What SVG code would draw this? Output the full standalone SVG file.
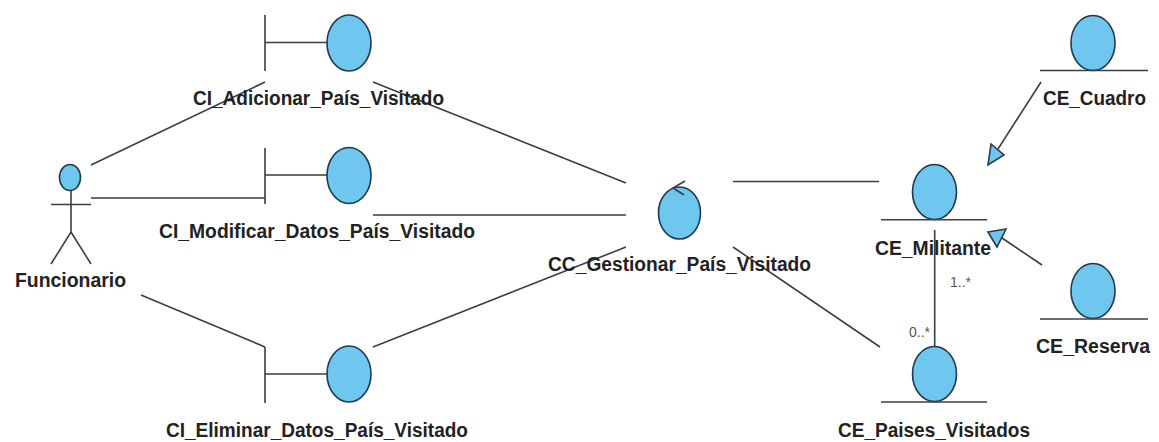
<svg xmlns="http://www.w3.org/2000/svg" width="1159" height="442" viewBox="0 0 1159 442">
<style>
.l{stroke:#3a3f44;stroke-width:1.6;fill:none}
.e{fill:#6fc6ee;stroke:#1f3a4a;stroke-width:1.6}
.a{fill:#6fc6ee;stroke:#2a3a44;stroke-width:1.6}
.t{font-family:"Liberation Sans",Arial,sans-serif;font-weight:bold;font-size:19.500px;fill:#222;text-anchor:middle}
.m{font-family:"Liberation Sans",Arial,sans-serif;font-size:15px;fill:#555}
</style>
<rect width="1159" height="442" fill="#fff"/>
<g id="connectors">
<path class="l" d="M91 165L265 82M91 198H265M141 295L265 347M373 82L626 183M373 215H626M373 347L626 247M733 181.500H879M733 247L880 347M934.700 230V347M1041 82L998 149M1042 265L1002 238"/>
<path class="a" d="M991 144L1004 155L988 165ZM988 232L1006 229L997 247Z"/>
<text class="m" x="950" y="287" textLength="21" lengthAdjust="spacingAndGlyphs">1..*</text>
<text class="m" x="909" y="337" textLength="21" lengthAdjust="spacingAndGlyphs">0..*</text>
</g>
<g id="Funcionario">
<ellipse class="e" cx="70" cy="177.500" rx="10.500" ry="13"/>
<path class="l" d="M71 190V232M51 204.500H91M51 264L71 232L91 264"/>
<text class="t" x="70.500" y="287" textLength="111" lengthAdjust="spacingAndGlyphs">Funcionario</text>
</g>
<g id="CI_Adicionar">
<path class="l" d="M265 15V71M265 42.500H327"/>
<ellipse class="e" cx="349" cy="43" rx="22" ry="28"/>
<text class="t" x="318.500" y="105" textLength="251" lengthAdjust="spacingAndGlyphs">CI_Adicionar_País_Visitado</text>
</g>
<g id="CI_Modificar">
<path class="l" d="M265 148V204M265 175H327"/>
<ellipse class="e" cx="349" cy="175.500" rx="22" ry="28"/>
<text class="t" x="317" y="238" textLength="316" lengthAdjust="spacingAndGlyphs">CI_Modificar_Datos_País_Visitado</text>
</g>
<g id="CI_Eliminar">
<path class="l" d="M265 347V403M265 374H327"/>
<ellipse class="e" cx="349" cy="374" rx="22" ry="28"/>
<text class="t" x="317" y="437" textLength="302" lengthAdjust="spacingAndGlyphs">CI_Eliminar_Datos_País_Visitado</text>
</g>
<g id="CC_Gestionar">
<ellipse class="e" cx="679.500" cy="213" rx="21" ry="26"/>
<path class="l" d="M685 181L673 188L684 195"/>
<text class="t" x="679.500" y="271" textLength="263" lengthAdjust="spacingAndGlyphs">CC_Gestionar_País_Visitado</text>
</g>
<g id="CE_Militante">
<ellipse class="e" cx="934.500" cy="192" rx="22" ry="27.500"/>
<path class="l" d="M881 219.700H987"/>
<text class="t" x="933" y="255" textLength="116" lengthAdjust="spacingAndGlyphs">CE_Militante</text>
</g>
<g id="CE_Cuadro">
<ellipse class="e" cx="1093" cy="43" rx="22" ry="27.500"/>
<path class="l" d="M1040 70.500H1148"/>
<text class="t" x="1094.500" y="105" textLength="103" lengthAdjust="spacingAndGlyphs">CE_Cuadro</text>
</g>
<g id="CE_Reserva">
<ellipse class="e" cx="1093" cy="291" rx="22" ry="27.500"/>
<path class="l" d="M1040 319H1148"/>
<text class="t" x="1093" y="353" textLength="114" lengthAdjust="spacingAndGlyphs">CE_Reserva</text>
</g>
<g id="CE_Paises">
<ellipse class="e" cx="934.500" cy="374" rx="22" ry="27.500"/>
<path class="l" d="M881 402H987"/>
<text class="t" x="934" y="437" textLength="192" lengthAdjust="spacingAndGlyphs">CE_Paises_Visitados</text>
</g>
</svg>
